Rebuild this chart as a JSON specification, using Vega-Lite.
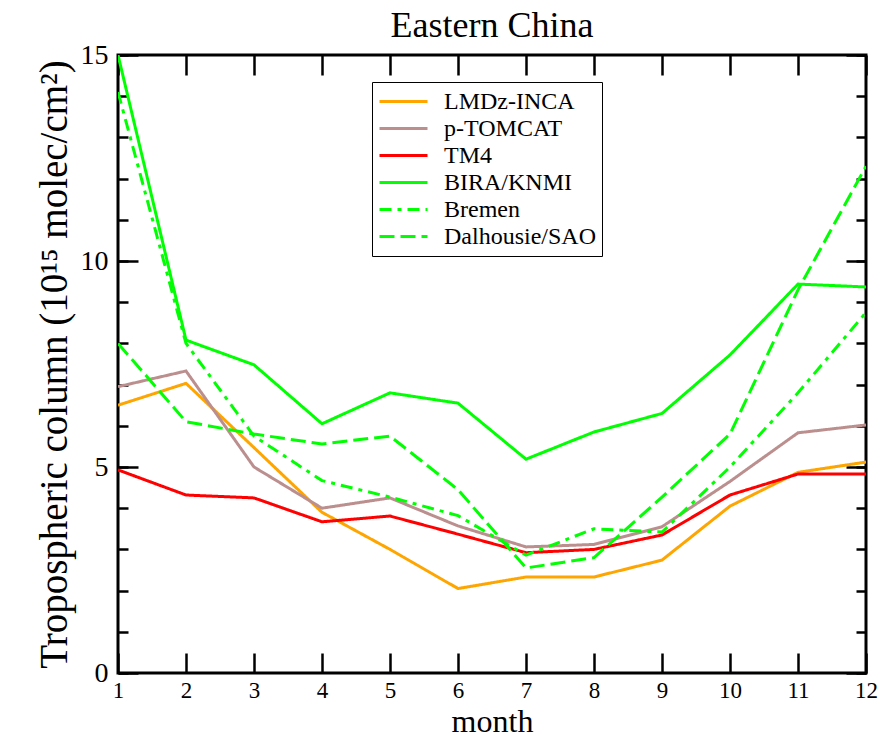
{
  "$schema": "https://vega.github.io/schema/vega-lite/v6.json",
  "width": 748,
  "height": 618,
  "autosize": {"type": "none"},
  "padding": {"left": 118, "top": 55, "right": 28, "bottom": 70},
  "background": "white",
  "config": {
    "view": {"stroke": "black", "strokeWidth": 3},
    "font": "Liberation Serif",
    "axis": {
      "domain": false,
      "grid": false,
      "tickColor": "black",
      "tickWidth": 2.5,
      "labelFont": "Liberation Serif",
      "labelColor": "black",
      "titleFont": "Liberation Serif",
      "titleFontWeight": "normal",
      "titleColor": "black",
      "labelFlush": false,
      "labelOverlap": false
    }
  },
  "title": {
    "text": "Eastern China",
    "font": "Liberation Serif",
    "fontSize": 36,
    "fontWeight": "normal",
    "color": "black",
    "frame": "group",
    "anchor": "middle",
    "offset": -4
  },
  "data": {
    "values": [
      {"month": 1, "model": "LMDz-INCA", "value": 6.5},
      {"month": 2, "model": "LMDz-INCA", "value": 7.03},
      {"month": 3, "model": "LMDz-INCA", "value": 5.47},
      {"month": 4, "model": "LMDz-INCA", "value": 3.9},
      {"month": 5, "model": "LMDz-INCA", "value": 3.0},
      {"month": 6, "model": "LMDz-INCA", "value": 2.05},
      {"month": 7, "model": "LMDz-INCA", "value": 2.33},
      {"month": 8, "model": "LMDz-INCA", "value": 2.33},
      {"month": 9, "model": "LMDz-INCA", "value": 2.74},
      {"month": 10, "model": "LMDz-INCA", "value": 4.05},
      {"month": 11, "model": "LMDz-INCA", "value": 4.87},
      {"month": 12, "model": "LMDz-INCA", "value": 5.12},
      {"month": 1, "model": "p-TOMCAT", "value": 6.95},
      {"month": 2, "model": "p-TOMCAT", "value": 7.33},
      {"month": 3, "model": "p-TOMCAT", "value": 5.0},
      {"month": 4, "model": "p-TOMCAT", "value": 4.0},
      {"month": 5, "model": "p-TOMCAT", "value": 4.25},
      {"month": 6, "model": "p-TOMCAT", "value": 3.57},
      {"month": 7, "model": "p-TOMCAT", "value": 3.06},
      {"month": 8, "model": "p-TOMCAT", "value": 3.12},
      {"month": 9, "model": "p-TOMCAT", "value": 3.55},
      {"month": 10, "model": "p-TOMCAT", "value": 4.65},
      {"month": 11, "model": "p-TOMCAT", "value": 5.83},
      {"month": 12, "model": "p-TOMCAT", "value": 6.02},
      {"month": 1, "model": "TM4", "value": 4.93},
      {"month": 2, "model": "TM4", "value": 4.32},
      {"month": 3, "model": "TM4", "value": 4.25},
      {"month": 4, "model": "TM4", "value": 3.67},
      {"month": 5, "model": "TM4", "value": 3.81},
      {"month": 6, "model": "TM4", "value": 3.37},
      {"month": 7, "model": "TM4", "value": 2.92},
      {"month": 8, "model": "TM4", "value": 3.0},
      {"month": 9, "model": "TM4", "value": 3.35},
      {"month": 10, "model": "TM4", "value": 4.32},
      {"month": 11, "model": "TM4", "value": 4.83},
      {"month": 12, "model": "TM4", "value": 4.83},
      {"month": 1, "model": "BIRA/KNMI", "value": 15.0},
      {"month": 2, "model": "BIRA/KNMI", "value": 8.08},
      {"month": 3, "model": "BIRA/KNMI", "value": 7.48},
      {"month": 4, "model": "BIRA/KNMI", "value": 6.05},
      {"month": 5, "model": "BIRA/KNMI", "value": 6.8},
      {"month": 6, "model": "BIRA/KNMI", "value": 6.55},
      {"month": 7, "model": "BIRA/KNMI", "value": 5.19},
      {"month": 8, "model": "BIRA/KNMI", "value": 5.85},
      {"month": 9, "model": "BIRA/KNMI", "value": 6.3},
      {"month": 10, "model": "BIRA/KNMI", "value": 7.72},
      {"month": 11, "model": "BIRA/KNMI", "value": 9.44},
      {"month": 12, "model": "BIRA/KNMI", "value": 9.37},
      {"month": 1, "model": "Bremen", "value": 14.1},
      {"month": 2, "model": "Bremen", "value": 8.0},
      {"month": 3, "model": "Bremen", "value": 5.75},
      {"month": 4, "model": "Bremen", "value": 4.67},
      {"month": 5, "model": "Bremen", "value": 4.27},
      {"month": 6, "model": "Bremen", "value": 3.82},
      {"month": 7, "model": "Bremen", "value": 2.86},
      {"month": 8, "model": "Bremen", "value": 3.5},
      {"month": 9, "model": "Bremen", "value": 3.42},
      {"month": 10, "model": "Bremen", "value": 5.0},
      {"month": 11, "model": "Bremen", "value": 6.8},
      {"month": 12, "model": "Bremen", "value": 8.75},
      {"month": 1, "model": "Dalhousie/SAO", "value": 8.0},
      {"month": 2, "model": "Dalhousie/SAO", "value": 6.1},
      {"month": 3, "model": "Dalhousie/SAO", "value": 5.8},
      {"month": 4, "model": "Dalhousie/SAO", "value": 5.56},
      {"month": 5, "model": "Dalhousie/SAO", "value": 5.75},
      {"month": 6, "model": "Dalhousie/SAO", "value": 4.45},
      {"month": 7, "model": "Dalhousie/SAO", "value": 2.55},
      {"month": 8, "model": "Dalhousie/SAO", "value": 2.8},
      {"month": 9, "model": "Dalhousie/SAO", "value": 4.27},
      {"month": 10, "model": "Dalhousie/SAO", "value": 5.8},
      {"month": 11, "model": "Dalhousie/SAO", "value": 9.3},
      {"month": 12, "model": "Dalhousie/SAO", "value": 12.3}
    ]
  },
  "layer": [
    {
      "mark": {"type": "line", "strokeWidth": 3, "clip": true},
      "encoding": {
        "x": {
          "field": "month", "type": "quantitative",
          "scale": {"domain": [1, 12], "nice": false, "zero": false},
          "axis": {
            "orient": "bottom",
            "values": [1, 2, 3, 4, 5, 6, 7, 8, 9, 10, 11, 12],
            "format": "d",
            "tickSize": -20,
            "labelPadding": 26,
            "labelFontSize": 23,
            "title": "month",
            "titleFontSize": 32,
            "titlePadding": 4
          }
        },
        "y": {
          "field": "value", "type": "quantitative",
          "scale": {"domain": [0, 15], "nice": false},
          "axis": {
            "orient": "left",
            "values": [0, 5, 10, 15],
            "tickSize": -20,
            "labelPadding": 30,
            "labelFontSize": 28,
            "title": "Tropospheric column (10¹⁵ molec/cm²)",
            "titleFontSize": 39,
            "titlePadding": 6
          }
        },
        "color": {
          "field": "model", "type": "nominal",
          "scale": {
            "domain": ["LMDz-INCA", "p-TOMCAT", "TM4", "BIRA/KNMI", "Bremen", "Dalhousie/SAO"],
            "range": ["#ffa500", "#bc8f8f", "#ff0000", "#00ff00", "#00ff00", "#00ff00"]
          },
          "legend": {
            "orient": "none", "legendX": 254, "legendY": 27,
            "title": null,
            "direction": "vertical",
            "strokeColor": "black", "fillColor": "white",
            "padding": 6,
            "symbolType": "stroke", "symbolSize": 2304, "symbolStrokeWidth": 3,
            "clipHeight": 27, "rowPadding": 0,
            "labelFont": "Liberation Serif", "labelFontSize": 24, "labelColor": "black",
            "labelOffset": 15, "labelLimit": 300
          }
        },
        "strokeDash": {
          "field": "model", "type": "nominal",
          "scale": {
            "domain": ["LMDz-INCA", "p-TOMCAT", "TM4", "BIRA/KNMI", "Bremen", "Dalhousie/SAO"],
            "range": [[1, 0], [1, 0], [1, 0], [1, 0], [12, 6, 4, 6], [15, 6]]
          },
          "legend": {
            "orient": "none", "legendX": 254, "legendY": 27,
            "title": null,
            "direction": "vertical",
            "strokeColor": "black", "fillColor": "white",
            "padding": 6,
            "symbolType": "stroke", "symbolSize": 2304, "symbolStrokeWidth": 3,
            "clipHeight": 27, "rowPadding": 0,
            "labelFont": "Liberation Serif", "labelFontSize": 24, "labelColor": "black",
            "labelOffset": 15, "labelLimit": 300
          }
        }
      }
    },
    {
      "mark": {"type": "line", "opacity": 0},
      "encoding": {
        "x": {
          "field": "month", "type": "quantitative",
          "scale": {"domain": [1, 12], "nice": false, "zero": false},
          "axis": {"orient": "top", "values": [1, 2, 3, 4, 5, 6, 7, 8, 9, 10, 11, 12], "tickSize": -20, "labels": false, "title": null}
        },
        "y": {
          "field": "value", "type": "quantitative",
          "scale": {"domain": [0, 15], "nice": false},
          "axis": {"orient": "left", "values": [0, 1, 2, 3, 4, 5, 6, 7, 8, 9, 10, 11, 12, 13, 14, 15], "tickSize": -10, "labels": false, "title": null}
        },
        "detail": {"field": "model"}
      }
    },
    {
      "mark": {"type": "line", "opacity": 0},
      "encoding": {
        "x": {"field": "month", "type": "quantitative", "scale": {"domain": [1, 12], "nice": false, "zero": false}, "axis": null},
        "y": {
          "field": "value", "type": "quantitative",
          "scale": {"domain": [0, 15], "nice": false},
          "axis": {"orient": "right", "values": [0, 5, 10, 15], "tickSize": -20, "labels": false, "title": null}
        },
        "detail": {"field": "model"}
      }
    },
    {
      "mark": {"type": "line", "opacity": 0},
      "encoding": {
        "x": {"field": "month", "type": "quantitative", "scale": {"domain": [1, 12], "nice": false, "zero": false}, "axis": null},
        "y": {
          "field": "value", "type": "quantitative",
          "scale": {"domain": [0, 15], "nice": false},
          "axis": {"orient": "right", "values": [0, 1, 2, 3, 4, 5, 6, 7, 8, 9, 10, 11, 12, 13, 14, 15], "tickSize": -10, "labels": false, "title": null}
        },
        "detail": {"field": "model"}
      }
    }
  ],
  "resolve": {"axis": {"x": "independent", "y": "independent"}}
}
